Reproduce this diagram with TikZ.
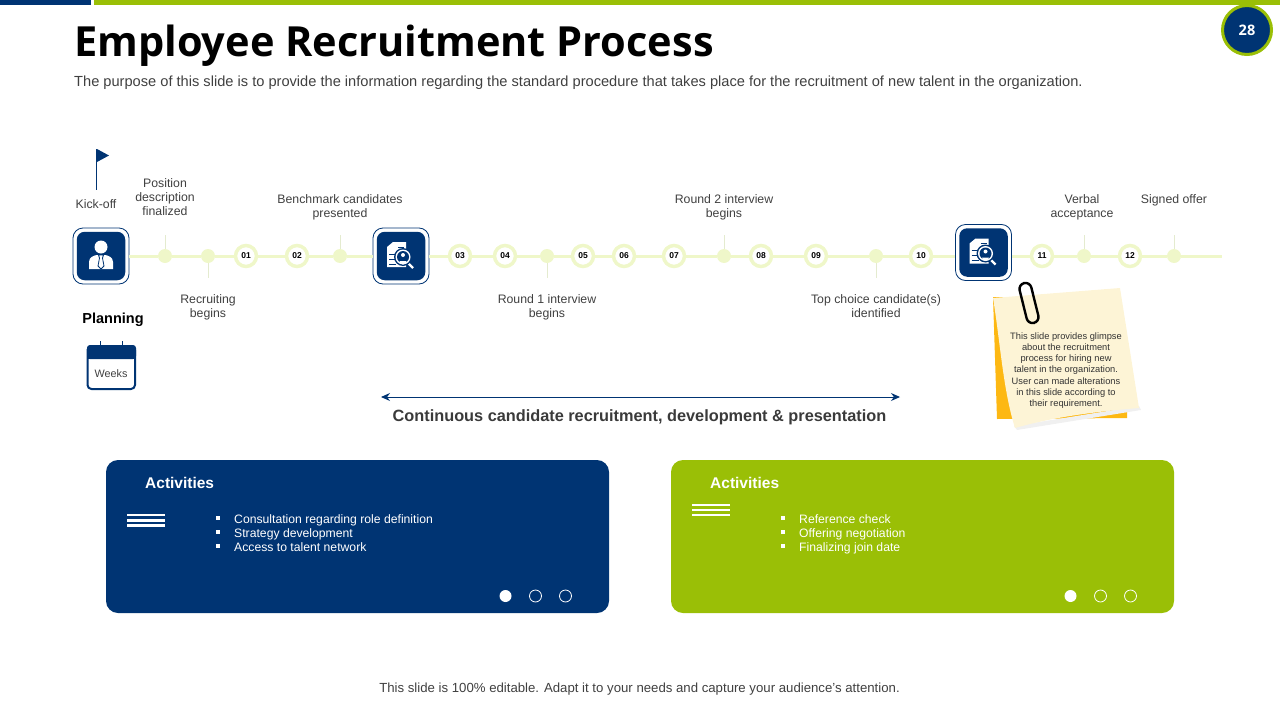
\documentclass[tikz,border=0pt]{standalone}
\usepackage{fontspec}
\setmainfont{Liberation Sans}
\newfontfamily\titlefont{Open Sans}
\usepackage{xcolor}
\usepackage{tikz}
\usetikzlibrary{positioning}
\usetikzlibrary{arrows.meta}
\definecolor{navy}{HTML}{003473}
\definecolor{leaf}{HTML}{9ABF06}
\definecolor{pale}{HTML}{EFF7C9}
\definecolor{ink}{HTML}{404040}
\definecolor{stem}{HTML}{E4EBCF}
\definecolor{cream}{HTML}{FDF4D6}
\definecolor{amber}{HTML}{FDB813}
\tikzset{
  label text/.style={font=\fontsize{12.3}{14}\selectfont,text=ink,align=center,inner sep=0pt},
  dot node/.style={circle,fill=pale,minimum size=14pt,inner sep=0pt},
  num node/.style={circle,fill=white,draw=pale,line width=3.5pt,minimum size=21pt,inner sep=0pt,font=\fontsize{8.5}{10}\bfseries\selectfont,text=black},
  frame node/.style={draw=navy,fill=white,rounded corners=10pt,minimum size=56pt,inner sep=0pt,line width=.8pt},
  box node/.style={fill=navy,rounded corners=8pt,minimum size=48.5pt,inner sep=0pt},
  track/.style={draw=pale,line width=3pt},
  stem line/.style={draw=stem,line width=.8pt},
  panel/.style={rounded corners=12pt,minimum width=503pt,minimum height=153pt,inner sep=0pt},
  panel head/.style={font=\fontsize{15.5}{18}\bfseries\selectfont,text=white,inner sep=0pt,anchor=west},
  panel item/.style={font=\fontsize{12.2}{14}\selectfont,text=white,inner sep=0pt,anchor=west,text height=9pt,text depth=2.6pt},
  bullet/.style={fill=white,minimum size=4pt,inner sep=0pt},
  full dot/.style={circle,fill=white,minimum size=12pt,inner sep=0pt},
  open dot/.style={circle,draw=white,minimum size=12pt,inner sep=0pt,line width=.8pt},
  menu bar/.style={draw=white,line width=2.6pt},
  docicon/.pic={
    \fill[white] (-14,-9) -- (-8,-14) -- (5,-14) -- (5,11) -- (-14,11) -- cycle;
    \draw[navy,line width=.8pt] (-3,-9) -- (3,-9) (-3,-5) -- (0,-5) (-12,-2) -- (-5,-2) (-12,3) -- (-5,3) (-12,8) -- (-5,8);
    \draw[white,line width=2.2pt] (7,7) -- (12,12);
    \fill[navy] (2,1) circle (9);
    \fill[white] (2,1) circle (7.5);
    \fill[navy] (2,1) circle (6);
    \fill[white] (2,-1) circle (2);
    \fill[white] (-1.5,5) arc (180:0:3.5 and 3.5) -- cycle;
  }
}

\begin{document}
\begin{tikzpicture}[x=1pt,y=-1pt]
    \useasboundingbox (0,0) rectangle (1280,720);

    % top bars and page number
    \fill[navy] (0,0) rectangle (91,5);
    \fill[leaf] (94,0) rectangle (1280,5);
    \node[circle,fill=navy,draw=leaf,line width=3pt,minimum size=49pt,inner sep=0pt,text=white,font=\titlefont\fontsize{14.5}{16}\bfseries\selectfont] (page) at (1247,30) {28};

    \node[anchor=west,inner sep=0pt,font=\titlefont\fontsize{41.5}{48}\bfseries\selectfont,text=black] (title) at (74,46) {Employee Recruitment Process};
    \node[anchor=west,inner sep=0pt,font=\fontsize{14.63}{16}\selectfont,text=ink] (sub) at (74,83) {The purpose of this slide is to provide the information regarding the standard procedure that takes place for the recruitment of new talent in the organization.};

    % timeline
    \node[frame node] (f1) at (101,256) {};
    \node[frame node] (f2) at (401,256) {};
    \node[frame node] (f3) at (983.5,252.5) {};
    \node[dot node] (d1) at (165,256) {};
    \node[dot node] (d2) at (208,256) {};
    \node[num node] (n1) at (246,256) {01};
    \node[num node] (n2) at (297,256) {02};
    \node[dot node] (d3) at (340,256) {};
    \node[num node] (n3) at (460,256) {03};
    \node[num node] (n4) at (505,256) {04};
    \node[dot node] (d4) at (547,256) {};
    \node[num node] (n5) at (583,256) {05};
    \node[num node] (n6) at (624,256) {06};
    \node[num node] (n7) at (674,256) {07};
    \node[dot node] (d5) at (724,256) {};
    \node[num node] (n8) at (761,256) {08};
    \node[num node] (n9) at (816,256) {09};
    \node[dot node] (d6) at (876,256) {};
    \node[num node] (n10) at (921,256) {10};
    \node[num node] (n11) at (1042,256) {11};
    \node[dot node] (d7) at (1084,256) {};
    \node[num node] (n12) at (1130,256) {12};
    \node[dot node] (d8) at (1174,256) {};
    \coordinate (end) at (1222,256);

    \path[track]
    (f1) edge (d1)
    (d1) edge (d2)
    (d2) edge (n1)
    (n1) edge (n2)
    (n2) edge (d3)
    (d3) edge (f2)
    (f2) edge (n3)
    (n3) edge (n4)
    (n4) edge (d4)
    (d4) edge (n5)
    (n5) edge (n6)
    (n6) edge (n7)
    (n7) edge (d5)
    (d5) edge (n8)
    (n8) edge (n9)
    (n9) edge (d6)
    (d6) edge (n10)
    (n10) edge (f3.west |- n10)
    (f3.east |- n11) edge (n11)
    (n11) edge (d7)
    (d7) edge (n12)
    (n12) edge (d8)
    (d8) edge (end)
    ;

    \node[box node] (b1) at (f1) {};
    \node[box node] (b2) at (f2) {};
    \node[box node] (b3) at (f3) {};

    % person icon
    \fill[white] (b1) ++(0,-9) circle (6.5);
    \fill[white] (89,269) -- (89,262) .. controls (89,257) and (94,255.5) .. (97,255) -- (105,255) .. controls (108,255.5) and (113,257) .. (113,262) -- (113,269) -- cycle;
    \fill[white,draw=navy,line width=.8pt] (98.5,255) -- (103.5,255) -- (102.5,258) -- (104,266) -- (101,269) -- (98,266) -- (99.5,258) -- cycle;

    % document icons
    \pic at (b2) {docicon};
    \pic at (b3) {docicon};

    % stems and labels
    \coordinate[above=21pt of d1.center] (s1);
    \coordinate[below=22pt of d2.center] (s2);
    \coordinate[above=21pt of d3.center] (s3);
    \coordinate[below=22pt of d4.center] (s4);
    \coordinate[above=21pt of d5.center] (s5);
    \coordinate[below=22pt of d6.center] (s6);
    \coordinate[above=21pt of d7.center] (s7);
    \coordinate[above=21pt of d8.center] (s8);
    \path[stem line]
    (d1) edge (s1)
    (d2) edge (s2)
    (d3) edge (s3)
    (d4) edge (s4)
    (d5) edge (s5)
    (d6) edge (s6)
    (d7) edge (s7)
    (d8) edge (s8)
    ;

    \node[label text] (l1) [above = 19pt of s1] {Position\\description\\finalized};
    \node[label text] (l2) [below = 16pt of s2] {Recruiting\\begins};
    \node[label text] (l3) [above = 15pt of s3] {Benchmark candidates\\presented};
    \node[label text] (l4) [below = 16pt of s4] {Round 1 interview\\begins};
    \node[label text] (l5) [above = 15pt of s5] {Round 2 interview\\begins};
    \node[label text] (l6) [below = 16pt of s6] {Top choice candidate(s)\\identified};
    \node[label text] (l7) [above = 15pt of s7,xshift=-2pt] {Verbal\\acceptance};
    \node[label text] (l8) [above = 29pt of s8] {Signed offer};

    % flag
    \node[label text] (kick) at (96,204.5) {Kick-off};
    \coordinate (pole) at (96.5,149);
    \draw[navy,line width=1pt] (pole) -- (96.5,190);
    \fill[navy] (97,149) -- (109,155.5) -- (97,162) -- cycle;

    % planning
    \node[inner sep=0pt,font=\fontsize{14.5}{16}\bfseries\selectfont,text=black] (plan) at (113,320) {Planning};
    \draw[navy,line width=1pt] (100,341) -- (100,346) (122,341) -- (122,346);
    \draw[navy,fill=white,line width=2pt,rounded corners=4pt] (87.5,346) rectangle (135,389);
    \fill[navy,rounded corners=3pt] (87,345) rectangle (136,359);
    \fill[navy] (87,352) rectangle (136,359);
    \node[inner sep=0pt,font=\fontsize{10.8}{12}\selectfont,text=ink] (weeks) at (111,374) {Weeks};

    % arrow
    \coordinate (a1) at (381,397);
    \coordinate (a2) at (900,397);
    \draw[navy,line width=1pt,{Stealth[length=9pt,width=8pt]}-{Stealth[length=9pt,width=8pt]}] (a1) -- (a2);
    \node[inner sep=0pt,font=\fontsize{16.3}{18}\bfseries\selectfont,text=ink!90!black] (cont) at (639.5,417.5) {Continuous candidate recruitment, development \& presentation};

    % sticky note
    \fill[amber] (993,297) -- (1058,297) -- (1110,330) -- (1127,400) -- (1127,418) -- (997,419) -- cycle;
    \fill[black!6] (1017,430) -- (1141,410) -- (1139,406) -- (1014,426) -- cycle;
    \fill[cream] (993,298) -- (1120,288) -- (1139,408) .. controls (1090,412) and (1050,418) .. (1015,428) .. controls (1003,390) and (1000,340) .. (993,298) -- cycle;
    \node[font=\fontsize{9.3}{11.2}\selectfont,text=ink!80!black,align=center,inner sep=0pt] (note) at (1066,370.5) {This slide provides glimpse\\about the recruitment\\process for hiring new\\talent in the organization.\\User can made alterations\\in this slide according to\\their requirement.};
    \node[draw=black,line width=2.4pt,rounded corners=6pt,minimum width=12pt,minimum height=41pt,inner sep=0pt,rotate=14] (clip) at (1029,303) {};

    % blue panel
    \node[panel,fill=navy] (p1) at (357.5,536.5) {};
    \node[panel head] (h1) at (145,483) {Activities};
    \draw[menu bar] (127,515) -- (165,515) (127,520.3) -- (165,520.3) (127,525.7) -- (165,525.7);
    \node[bullet] (i1) at (218,518) {};
    \node[bullet] (i2) at (218,532) {};
    \node[bullet] (i3) at (218,546) {};
    \node[panel item] (t1) at (234,520.3) {Consultation regarding role definition};
    \node[panel item] (t2) at (234,534.3) {Strategy development};
    \node[panel item] (t3) at (234,548.3) {Access to talent network};
    \node[full dot] (o1) at (505.5,596) {};
    \node[open dot] (o2) at (535.5,596) {};
    \node[open dot] (o3) at (565.5,596) {};

    % green panel
    \node[panel,fill=leaf] (p2) at (922.5,536.5) {};
    \node[panel head] (h2) at (710,483) {Activities};
    \draw[menu bar] (692,505) -- (730,505) (692,510) -- (730,510) (692,515) -- (730,515);
    \node[bullet] (j1) at (783,518) {};
    \node[bullet] (j2) at (783,532) {};
    \node[bullet] (j3) at (783,546) {};
    \node[panel item] (u1) at (799,520.3) {Reference check};
    \node[panel item] (u2) at (799,534.3) {Offering negotiation};
    \node[panel item] (u3) at (799,548.3) {Finalizing join date};
    \node[full dot] (q1) at (1070.5,596) {};
    \node[open dot] (q2) at (1100.5,596) {};
    \node[open dot] (q3) at (1130.5,596) {};

    % footer
    \node[inner sep=0pt,font=\fontsize{13.2}{15}\selectfont,text=ink] (foot) at (639.5,689.5) {This slide is 100\% editable. Adapt it to your needs and capture your audience's attention.};

\end{tikzpicture}
\end{document}
